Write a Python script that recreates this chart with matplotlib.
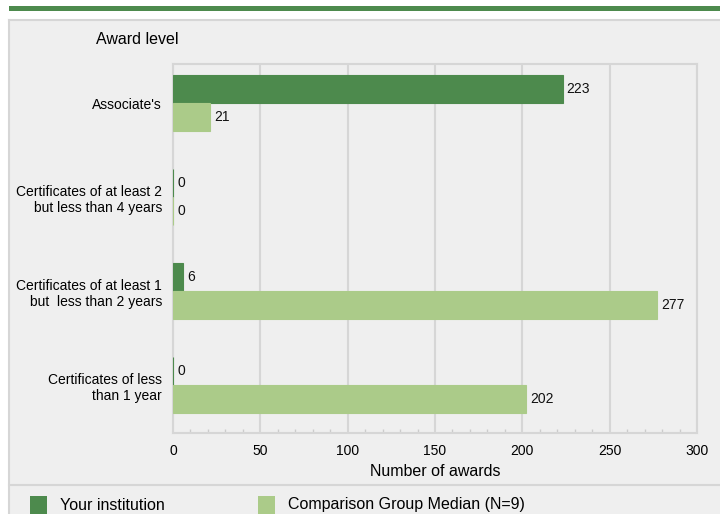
import matplotlib
matplotlib.use('Agg')
import matplotlib.pyplot as plt
import matplotlib.patches as mpatches
import matplotlib.lines as mlines
from matplotlib.ticker import MultipleLocator
import numpy as np

# Dados
categorias = ["Associate's",
              "Certificates of at least 2\nbut less than 4 years",
              "Certificates of at least 1\nbut  less than 2 years",
              "Certificates of less\nthan 1 year"]
instituicao = [223, 0, 6, 0]
mediana_grupo = [21, 0, 277, 202]
rotulos_legenda = ["Your institution", "Comparison Group Median (N=9)"]

cor_escura = '#4d8a4d'
cor_clara = '#abcb89'
cor_fundo = '#efefef'
cor_grade = '#d6d6d6'

plt.rcParams['font.family'] = ['Liberation Sans', 'DejaVu Sans']

fig = plt.figure(figsize=(7.2, 5.14), dpi=100)

# Faixa verde no topo e painel cinza
fig.patches.append(mpatches.Rectangle((9/720, 1 - 11/514), 1, 5/514, transform=fig.transFigure,
                                      facecolor=cor_escura, edgecolor='none', zorder=-3))
fig.patches.append(mpatches.Rectangle((9/720, 0), 1, 1 - 20/514, transform=fig.transFigure,
                                      facecolor=cor_fundo, edgecolor='none', zorder=-3))
for xs, ys in [([9/720, 1], [1 - 20/514, 1 - 20/514]),
               ([9/720, 9/720], [0, 1 - 20/514]),
               ([9/720, 1], [1 - 485/514, 1 - 485/514])]:
    fig.lines.append(mlines.Line2D(xs, ys, transform=fig.transFigure,
                                   color=cor_grade, linewidth=1.5, zorder=-2))

ax = fig.add_axes([173/720, 1 - 433/514, (697 - 173)/720, (433 - 64)/514])
ax.set_zorder(1)
ax.set_facecolor(cor_fundo)

y = np.arange(len(categorias))
altura = 0.3
b1 = ax.barh(y - altura/2, instituicao, height=altura, color=cor_escura,
             edgecolor=cor_escura, linewidth=0.8, zorder=3)
b2 = ax.barh(y + altura/2, mediana_grupo, height=altura, color=cor_clara,
             edgecolor=cor_clara, linewidth=0.8, zorder=3)

for barras, valores in [(b1, instituicao), (b2, mediana_grupo)]:
    for barra, v in zip(barras, valores):
        ax.annotate(str(v), (v, barra.get_y() + barra.get_height()/2),
                    xytext=(3, 0), textcoords='offset points',
                    ha='left', va='center', fontsize=10, color='#111111')

ax.set_xlim(0, 300)
ax.set_ylim(3.51, -0.415)
ax.set_yticks(y)
ax.set_yticklabels(categorias, fontsize=10, ha='right', multialignment='right')
ax.xaxis.set_major_locator(MultipleLocator(50))
ax.xaxis.set_minor_locator(MultipleLocator(10))
ax.tick_params(axis='y', length=0, pad=8)
ax.tick_params(axis='x', which='major', length=0, pad=8, labelsize=10)
ax.tick_params(axis='x', which='minor', direction='in', length=3, color='#cccccc', width=1)
ax.grid(axis='x', color=cor_grade, linewidth=1.5, zorder=0)
ax.set_axisbelow(True)
for s in ax.spines.values():
    s.set_color(cor_grade)
    s.set_linewidth(1.5)

ax.set_xlabel('Number of awards', fontsize=11.5, labelpad=4)
fig.text(96/720, 1 - 40/514, 'Award level', fontsize=11.5, ha='left', va='center')

# Legenda
for x0, cor, rotulo in [(30, cor_escura, rotulos_legenda[0]), (258, cor_clara, rotulos_legenda[1])]:
    fig.patches.append(mpatches.Rectangle((x0/720, 0), 17/720, 18/514, transform=fig.transFigure,
                                          facecolor=cor, edgecolor='none', zorder=-1))
    fig.text((x0 + 30)/720, 1 - 505/514, rotulo, fontsize=11.5, ha='left', va='center')

plt.savefig('out.png', dpi=100)
